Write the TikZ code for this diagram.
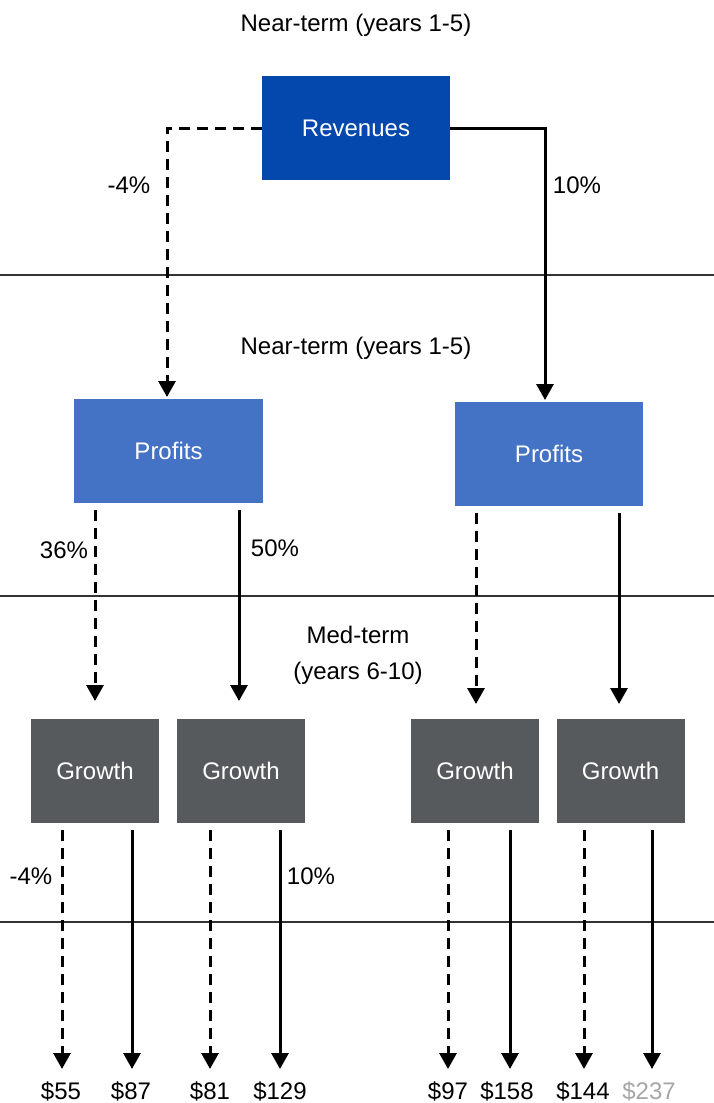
\documentclass[tikz,border=0pt]{standalone}
\usepackage{fontspec}
\setmainfont{Liberation Sans}
\usetikzlibrary{arrows.meta}
\definecolor{revblue}{RGB}{4,71,173}
\definecolor{profblue}{RGB}{68,114,196}
\definecolor{growgray}{RGB}{87,90,93}
\definecolor{greylbl}{RGB}{166,166,166}
\begin{document}
\begin{tikzpicture}[x=1pt,y=-1pt,
  every node/.style={font=\fontsize{24}{36}\selectfont, inner sep=0pt},
  bigbox/.style={minimum width=188pt, minimum height=104pt, text=white},
  growbox/.style={fill=growgray, minimum width=128pt, minimum height=104pt, text=white},
  flow/.style={line width=3pt, -{Triangle[length=16pt,width=17pt]}},
  dflow/.style={flow, dash pattern=on 11pt off 7pt},
  sepline/.style={line width=1.3pt, black!80}]
\useasboundingbox (0,0) rectangle (714,1103);
% period separators
\coordinate (s1l) at (0,275);
\coordinate (s1r) at (714,275);
\coordinate (s2l) at (0,596);
\coordinate (s2r) at (714,596);
\coordinate (s3l) at (0,922);
\coordinate (s3r) at (714,922);
\draw[sepline] (s1l) -- (s1r);
\draw[sepline] (s2l) -- (s2r);
\draw[sepline] (s3l) -- (s3r);
% headings
\node (hd0) at (356,25) {Near-term (years 1-5)};
\node (hd1) at (356,348) {Near-term (years 1-5)};
\node[align=center] (hd2) at (358,655) {Med-term\\(years 6-10)};
% revenues
\node[bigbox, fill=revblue] (rev) at (356,128) {Revenues};
\node[bigbox, fill=profblue, minimum width=189pt] (prof0) at (168.5,451) {Profits};
\node[bigbox, fill=profblue] (prof1) at (549,454) {Profits};
\coordinate (rev0) at (167,397);
\coordinate (rev1) at (545,400);
\draw[dflow] (rev.west) -| (rev0);
\draw[flow] (rev.east) -| (rev1);
\node (pc0) at (129,185) {-4\%};
\node (pc1) at (577,185) {10\%};
% growth
\node[growbox] (gro0) at (95,771) {Growth};
\node[growbox] (gro1) at (241,771) {Growth};
\node[growbox] (gro2) at (475,771) {Growth};
\node[growbox] (gro3) at (620.5,771) {Growth};
\coordinate (pa0) at (95,510);
\coordinate (pb0) at (95,701);
\coordinate (pa1) at (239,510);
\coordinate (pb1) at (239,701);
\coordinate (pa2) at (476,513);
\coordinate (pb2) at (476,704);
\coordinate (pa3) at (619,513);
\coordinate (pb3) at (619,704);
\draw[dflow] (pa0) -- (pb0);
\draw[flow] (pa1) -- (pb1);
\draw[dflow] (pa2) -- (pb2);
\draw[flow] (pa3) -- (pb3);
\node (pc2) at (64,550) {36\%};
\node (pc3) at (275,548) {50\%};
% outcomes
\node (v0) at (61,1091) {\$55};
\node (v1) at (131,1091) {\$87};
\node (v2) at (210,1091) {\$81};
\node (v3) at (280,1091) {\$129};
\node (v4) at (448,1091) {\$97};
\node (v5) at (507,1091) {\$158};
\node (v6) at (583,1091) {\$144};
\node[text=greylbl] (v7) at (649,1091) {\$237};
\coordinate (ga0) at (62,830);
\coordinate (gb0) at (62,1069);
\coordinate (ga1) at (132,830);
\coordinate (gb1) at (132,1069);
\coordinate (ga2) at (210,830);
\coordinate (gb2) at (210,1069);
\coordinate (ga3) at (280,830);
\coordinate (gb3) at (280,1069);
\coordinate (ga4) at (448,830);
\coordinate (gb4) at (448,1069);
\coordinate (ga5) at (510,830);
\coordinate (gb5) at (510,1069);
\coordinate (ga6) at (584,830);
\coordinate (gb6) at (584,1069);
\coordinate (ga7) at (652,830);
\coordinate (gb7) at (652,1069);
\draw[dflow] (ga0) -- (gb0);
\draw[flow] (ga1) -- (gb1);
\draw[dflow] (ga2) -- (gb2);
\draw[flow] (ga3) -- (gb3);
\draw[dflow] (ga4) -- (gb4);
\draw[flow] (ga5) -- (gb5);
\draw[dflow] (ga6) -- (gb6);
\draw[flow] (ga7) -- (gb7);
\node (pc4) at (31,876) {-4\%};
\node (pc5) at (311,876) {10\%};
\end{tikzpicture}
\end{document}
